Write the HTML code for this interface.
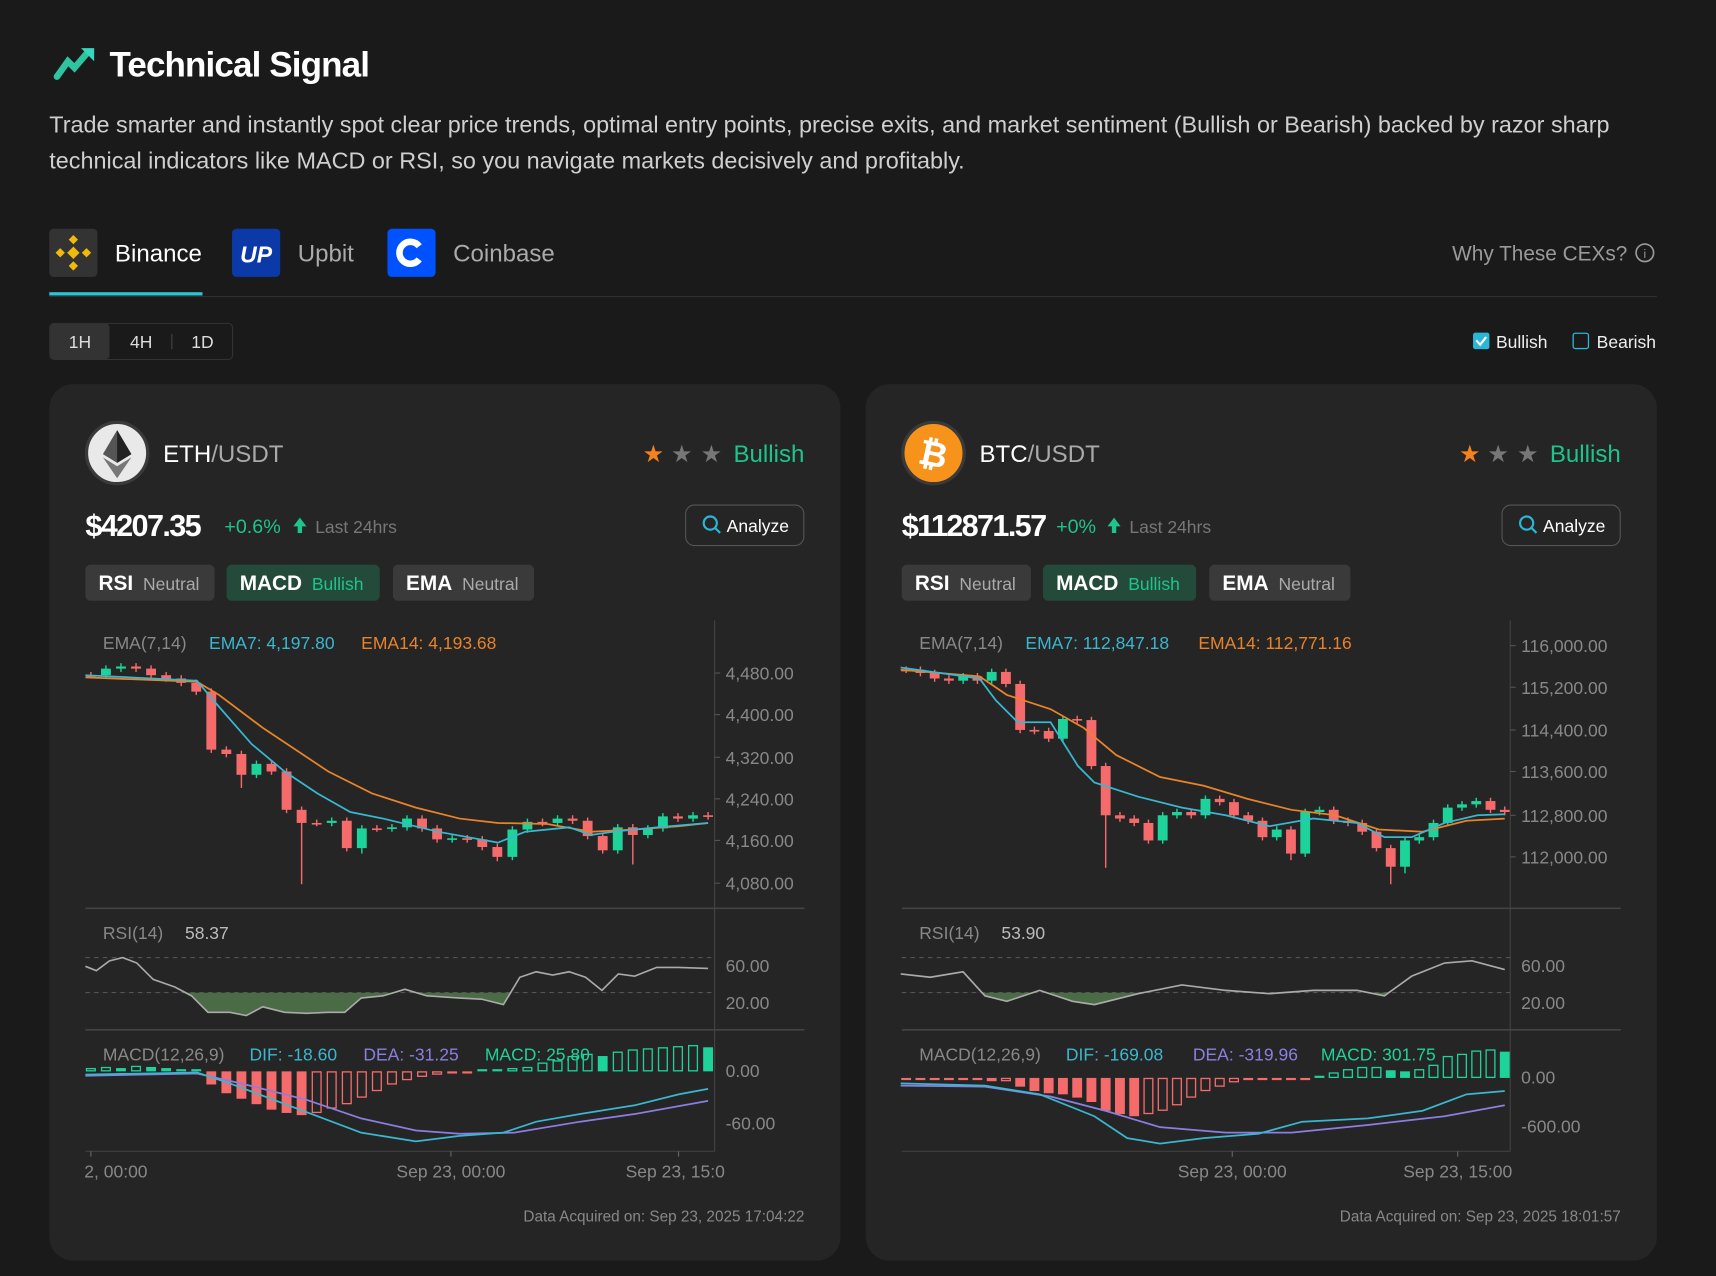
<!DOCTYPE html>
<html><head><meta charset="utf-8"><style>
html,body{margin:0;padding:0;background:#1a1a1a;width:1716px;height:1276px;overflow:hidden}
svg{display:block;font-family:"Liberation Sans",sans-serif}
</style></head><body>
<svg id="s" width="1716" height="1276" viewBox="0 0 1568 1166" xmlns="http://www.w3.org/2000/svg">
<rect width="1568" height="1166" fill="#1a1a1a"/>
<defs>
<clipPath id="rc1"><rect x="70" y="907" width="600" height="40"/></clipPath>
<clipPath id="rc2"><rect x="815" y="907" width="600" height="40"/></clipPath>
</defs>
<path d="M52 70 L62 56 L68 62 L80 48" stroke="#2ec4a0" stroke-width="6" fill="none" stroke-linecap="round"/>
<polygon points="74,44 86,44 86,56" fill="#37d6c0"/>
<text x="100" y="70" font-size="32" font-weight="bold" fill="#fff" letter-spacing="-0.8">Technical Signal</text>
<text x="45" y="121" font-size="21.4" fill="#cfcfcf">Trade smarter and instantly spot clear price trends, optimal entry points, precise exits, and market sentiment (Bullish or Bearish) backed by razor sharp</text>
<text x="45" y="154" font-size="21.4" fill="#cfcfcf">technical indicators like MACD or RSI, so you navigate markets decisively and profitably.</text>
<rect x="45" y="209" width="44" height="44" rx="4" fill="#333"/>
<g fill="#f0b90b" transform="translate(67,231)">
<rect x="-4" y="-4" width="8" height="8" transform="rotate(45)"/>
<rect x="-3" y="-15" width="6" height="6" transform="rotate(45 0 -12)"/>
<rect x="-3" y="9" width="6" height="6" transform="rotate(45 0 12)"/>
<rect x="-15" y="-3" width="6" height="6" transform="rotate(45 -12 0)"/>
<rect x="9" y="-3" width="6" height="6" transform="rotate(45 12 0)"/>
</g>
<text x="105" y="239" font-size="22" fill="#fff">Binance</text>
<rect x="212" y="209" width="44" height="44" rx="4" fill="#0b3aa8"/>
<text x="234" y="240" font-size="21" font-weight="bold" font-style="italic" fill="#fff" text-anchor="middle">UP</text>
<text x="272" y="239" font-size="22" fill="#aaa">Upbit</text>
<rect x="354" y="209" width="44" height="44" rx="4" fill="#0052ff"/>
<path d="M383 225 A10 10 0 1 0 383 237" stroke="#fff" stroke-width="6" fill="none"/>
<text x="414" y="239" font-size="22" fill="#aaa">Coinbase</text>
<line x1="45" y1="271" x2="1514" y2="271" stroke="#303030" stroke-width="1"/>
<rect x="45" y="267" width="140" height="3" fill="#2ec4d6"/>
<text x="1487" y="238" font-size="19" fill="#9a9a9a" text-anchor="end">Why These CEXs?</text>
<circle cx="1503" cy="231" r="8" stroke="#9a9a9a" stroke-width="1.5" fill="none"/>
<text x="1503" y="236" font-size="11" fill="#9a9a9a" text-anchor="middle">i</text>
<rect x="45.5" y="295.5" width="167" height="33" rx="4" fill="none" stroke="#333"/>
<rect x="46" y="296" width="54" height="32" rx="3" fill="#333"/>
<line x1="157" y1="305" x2="157" y2="319" stroke="#444"/>
<text x="73" y="318" font-size="16" fill="#ddd" text-anchor="middle">1H</text>
<text x="129" y="318" font-size="16" fill="#ddd" text-anchor="middle">4H</text>
<text x="185" y="318" font-size="16" fill="#ddd" text-anchor="middle">1D</text>
<rect x="1346" y="304" width="15" height="15" rx="2" fill="#2bb5d6"/>
<path d="M1349 311 L1352.5 315 L1358 308" stroke="#fff" stroke-width="2" fill="none"/>
<text x="1367" y="318" font-size="16" fill="#eee">Bullish</text>
<rect x="1437.5" y="304.5" width="14" height="14" rx="2" fill="none" stroke="#2bb5d6" stroke-width="1.2"/>
<text x="1459" y="318" font-size="16" fill="#eee">Bearish</text>
<g id="cards"></g>
</svg>
<script>
const NS="http://www.w3.org/2000/svg";
const root=document.getElementById('cards');
function el(t,a,txt,p){const e=document.createElementNS(NS,t);for(const k in a)e.setAttribute(k,a[k]);if(txt!=null)e.textContent=txt;(p||root).appendChild(e);return e;}
function pts(a){return a.map(p=>p.join(',')).join(' ');}
function card(o,d){
 const X=v=>v+o, AX=d.ax;
 el('rect',{x:X(45),y:351,width:723,height:801,rx:22,fill:'#252525'});
 if(d.eth){
  el('circle',{cx:X(107),cy:414,r:28,fill:'#e9e9e9',stroke:'#3a3a3a','stroke-width':3});
  el('polygon',{points:pts([[X(107),393],[X(94),415],[X(107),423],[X(120),415]]),fill:'#555'});
  el('polygon',{points:pts([[X(107),393],[X(107),423],[X(120),415]]),fill:'#222'});
  el('polygon',{points:pts([[X(94),418],[X(107),437],[X(120),418],[X(107),426]]),fill:'#777'});
 } else {
  el('circle',{cx:X(107),cy:414,r:28,fill:'#f7931a',stroke:'#3a3a3a','stroke-width':3});
  el('text',{x:X(107),y:426,'font-size':32,'font-weight':'bold',fill:'#fff','text-anchor':'middle',transform:`rotate(12 ${X(107)} 414)`},'₿');
 }
 const t=el('text',{x:X(149),y:422,'font-size':22,fill:'#fff'},d.sym);
 el('tspan',{fill:'#aaa'},'/USDT',t);
 [597,623,650].forEach((x,i)=>el('text',{x:X(x),y:422,'font-size':22,fill:i?'#777':'#f5821f','text-anchor':'middle'},'★'));
 el('text',{x:X(735),y:422,'font-size':22,fill:'#1ec48c','text-anchor':'end'},'Bullish');
 el('text',{x:X(78),y:490,'font-size':28,'font-weight':'bold',fill:'#fff','letter-spacing':'-1.5'},d.price);
 el('text',{x:X(d.pcx),y:487,'font-size':18,fill:'#1ec48c'},d.pct);
 el('polygon',{points:pts([[X(d.arx),473],[X(d.arx-6),481],[X(d.arx-2),481],[X(d.arx-2),487],[X(d.arx+2),487],[X(d.arx+2),481],[X(d.arx+6),481]]),fill:'#1ec48c'});
 el('text',{x:X(d.arx+14),y:487,'font-size':16,fill:'#777'},'Last 24hrs');
 el('rect',{x:X(626.5),y:461.5,width:108,height:37,rx:8,fill:'none',stroke:'#555'});
 el('circle',{cx:X(649),cy:478,r:6,fill:'none',stroke:'#2bb5d6','stroke-width':2});
 el('line',{x1:X(653.5),y1:482.5,x2:X(658),y2:487,stroke:'#2bb5d6','stroke-width':2});
 el('text',{x:X(664),y:486,'font-size':16,fill:'#fff'},'Analyze');
 [[78,118,'#3a3a3a','RSI','Neutral','#aaa'],[207,140,'#244a3b','MACD','Bullish','#1ec48c'],[359,129,'#3a3a3a','EMA','Neutral','#aaa']].forEach(b=>{
  el('rect',{x:X(b[0]),y:516,width:b[1],height:33,rx:5,fill:b[2]});
  const tt=el('text',{x:X(b[0]+12),y:539,'font-size':19,'font-weight':'bold',fill:'#fff'},b[3]);
  el('tspan',{dx:9,'font-size':16,'font-weight':'normal',fill:b[5]},b[4],tt);
 });
 el('line',{x1:X(AX),y1:567,x2:X(AX),y2:1052,stroke:'#444'});
 el('line',{x1:X(78),y1:830,x2:X(735),y2:830,stroke:'#444','stroke-width':1.5});
 el('line',{x1:X(78),y1:941,x2:X(735),y2:941,stroke:'#444','stroke-width':1.5});
 el('line',{x1:X(78),y1:1052,x2:X(AX),y2:1052,stroke:'#444'});
 d.ylab.forEach(l=>{el('line',{x1:X(AX),y1:l[1],x2:X(AX+5),y2:l[1],stroke:'#555'});el('text',{x:X(AX+10),y:l[1]+6,'font-size':16,fill:'#888'},l[0]);});
 const lg=el('text',{x:X(94),y:593,'font-size':16,fill:'#888'},'EMA(7,14)');
 el('tspan',{x:X(191),fill:'#3ab7d0'},d.ema7,lg);el('tspan',{x:X(d.e14x),fill:'#e8832a'},d.ema14,lg);
 const n=d.c.length,step=(d.cx1-d.cx0)/(n-1);
 let prev=d.c[0];
 d.c.forEach((c,i)=>{
  const x=X(d.cx0+i*step),op=i?prev:c,up=c<op,col=up?'#1ed39a':'#f56b6b';
  let hi=Math.min(op,c)-3,lo=Math.max(op,c)+3;
  if(d.wk[i]!=null)lo=d.wk[i];
  el('line',{x1:x,y1:hi,x2:x,y2:lo,stroke:col,'stroke-width':1.3});
  el('rect',{x:x-4.5,y:Math.min(op,c),width:9,height:Math.max(1.5,Math.abs(c-op)),fill:col});
  prev=c;
 });
 el('polyline',{points:pts(d.orange.map(p=>[X(p[0]),p[1]])),fill:'none',stroke:'#e8832a','stroke-width':1.6});
 el('polyline',{points:pts(d.cyan.map(p=>[X(p[0]),p[1]])),fill:'none',stroke:'#3ab7d0','stroke-width':1.6});
 const rl=el('text',{x:X(94),y:858,'font-size':16,fill:'#888'},'RSI(14)');el('tspan',{x:X(169),fill:'#bbb'},d.rsi,rl);
 [875,907].forEach(y=>el('line',{x1:X(78),y1:y,x2:X(AX),y2:y,stroke:'#555','stroke-dasharray':'4,4'}));
 el('text',{x:X(AX+10),y:888,'font-size':16,fill:'#888'},'60.00');el('text',{x:X(AX+10),y:922,'font-size':16,fill:'#888'},'20.00');
 const rp=d.rline.map(p=>[X(p[0]),p[1]]);
 el('polygon',{points:pts(rp.concat([[rp[rp.length-1][0],907],[X(78),907]])),fill:'#4a6b45','clip-path':d.clip});
 el('polyline',{points:pts(rp),fill:'none',stroke:'#aaa','stroke-width':1.5});
 const ml=el('text',{x:X(94),y:969,'font-size':16,fill:'#888'},'MACD(12,26,9)');
 el('tspan',{x:X(228),fill:'#3ab7d0'},d.dif,ml);el('tspan',{x:X(d.deax),fill:'#8a7fe0'},d.dea,ml);el('tspan',{x:X(d.mx),fill:'#1ed39a'},d.mac,ml);
 d.mlab.forEach(l=>el('text',{x:X(AX+10),y:l[1]+6,'font-size':16,fill:'#888'},l[0]));
 const z=d.zero,hn=d.h.length,hs=(d.cx1-d.cx0)/(hn-1);
 d.h.forEach((v,i)=>{
  const x=X(d.cx0+i*hs),pv=i?d.h[i-1]:v,col=v>=0?'#1ed39a':'#f56b6b',fill=v<pv||Math.abs(v)<3;
  const hgt=Math.max(2,Math.abs(v)),y=v>=0?z-hgt:z;
  if(fill)el('rect',{x:x-4.5,y:y,width:9,height:hgt,fill:col});
  else el('rect',{x:x-4,y:y+0.5,width:8,height:hgt-1,fill:'none',stroke:col,'stroke-width':1.2});
 });
 el('polyline',{points:pts(d.dea_l.map(p=>[X(p[0]),p[1]])),fill:'none',stroke:'#8a7fe0','stroke-width':1.6});
 el('polyline',{points:pts(d.dif_l.map(p=>[X(p[0]),p[1]])),fill:'none',stroke:'#3ab7d0','stroke-width':1.6});
 d.xt.forEach(t=>{el('line',{x1:X(t[0]),y1:1052,x2:X(t[0]),y2:1057,stroke:'#666'});el('text',{x:X(t[3]||t[0]),y:1076,'font-size':16,fill:'#888','text-anchor':t[2]||'middle'},t[1]);});
 el('text',{x:X(735),y:1116,'font-size':14,fill:'#888','text-anchor':'end'},d.acq);
}
card(0,{eth:1,sym:'ETH',price:'$4207.35',pct:'+0.6%',pcx:205,arx:274,ax:653,
 ylab:[['4,480.00',615],['4,400.00',653],['4,320.00',692],['4,240.00',730],['4,160.00',768],['4,080.00',807]],
 ema7:'EMA7: 4,197.80',ema14:'EMA14: 4,193.68',e14x:330,
 cx0:83,cx1:647,
 c:[617,611,609,611,617,620,624,632,685,689,708,698,705,740,752,752,750,775,757,757,756,748,757,767,766,767,774,783,758,751,752,748,750,764,777,756,763,757,746,748,745,746],
 wk:{14:808,10:720,27:787,35:780,36:790,18:780},
 cyan:[[78,617],[180,622],[195,640],[230,680],[260,705],[290,725],[320,742],[350,748],[400,760],[455,770],[480,760],[520,756],[540,763],[560,760],[600,756],[647,752]],
 orange:[[78,619],[180,623],[200,635],[240,665],[270,685],[300,705],[340,725],[380,738],[420,748],[455,752],[500,753],[540,760],[580,758],[620,755],[647,752]],
 rsi:'58.37',clip:'url(#rc1)',
 rline:[[78,883],[88,887],[100,878],[112,875],[125,880],[140,895],[160,902],[175,910],[190,925],[210,925],[225,928],[240,920],[260,925],[280,926],[300,925],[315,925],[330,912],[350,910],[370,904],[390,910],[420,912],[440,913],[460,918],[475,893],[490,888],[505,891],[520,888],[535,893],[550,905],[565,890],[580,892],[600,884],[620,884],[647,885]],
 dif:'DIF: -18.60',dea:'DEA: -31.25',deax:332,mac:'MACD: 25.80',mx:443,
 mlab:[['0.00',978],['-60.00',1026]],zero:979,
 h:[3,4,3,5,4,3,2,1,-12,-20,-25,-30,-35,-38,-40,-38,-34,-30,-24,-18,-12,-8,-5,-3,-2,-1,1,2,3,4,8,10,14,16,14,18,20,21,22,23,24,22],
 dif_l:[[78,982],[180,980],[210,990],[250,1005],[290,1020],[330,1035],[380,1043],[420,1038],[460,1035],[490,1025],[530,1018],[580,1010],[620,1000],[647,995]],
 dea_l:[[78,983],[180,981],[220,990],[280,1005],[330,1022],[380,1033],[420,1036],[470,1035],[530,1025],[580,1018],[647,1006]],
 xt:[[83,'2, 00:00','start',77],[412,'Sep 23, 00:00'],[620,'Sep 23, 15:0','middle',617]],
 acq:'Data Acquired on: Sep 23, 2025 17:04:22'});
card(746,{eth:0,sym:'BTC',price:'$112871.57',pct:'+0%',pcx:219,arx:272,ax:634,
 ylab:[['116,000.00',590],['115,200.00',628],['114,400.00',667],['113,600.00',705],['112,800.00',745],['112,000.00',783]],
 ema7:'EMA7: 112,847.18',ema14:'EMA14: 112,771.16',e14x:349,
 cx0:82,cx1:629,
 c:[612,615,620,622,618,622,614,625,667,668,675,657,658,700,745,748,752,768,745,742,745,730,733,745,750,765,758,780,742,740,750,752,760,775,792,768,765,752,738,735,732,740,742],
 wk:{14:793,34:808,35:798,27:786},
 cyan:[[77,610],[149,620],[164,640],[184,660],[214,660],[239,700],[254,715],[294,728],[334,738],[374,745],[414,755],[454,748],[494,752],[519,765],[544,765],[574,752],[604,745],[629,744]],
 orange:[[77,612],[149,618],[174,635],[214,648],[244,665],[274,690],[314,710],[354,718],[394,730],[434,740],[474,745],[514,758],[554,760],[594,750],[629,748]],
 rsi:'53.90',clip:'url(#rc2)',
 rline:[[77,890],[104,893],[134,888],[154,910],[174,915],[204,905],[234,915],[254,918],[294,908],[334,900],[374,905],[414,908],[454,905],[494,905],[519,910],[544,892],[574,880],[599,878],[629,886]],
 dif:'DIF: -169.08',dea:'DEA: -319.96',deax:344,mac:'MACD: 301.75',mx:461,
 mlab:[['0.00',984],['-600.00',1029]],zero:985,
 h:[-2,-2,-2,-2,-2,-2,-3,-3,-8,-12,-14,-15,-18,-22,-30,-33,-35,-33,-30,-25,-18,-12,-8,-4,-2,-1,-1,-1,-1,2,5,8,10,10,7,6,8,12,20,22,25,26,24],
 dif_l:[[77,990],[154,992],[204,1000],[254,1020],[284,1040],[314,1045],[354,1040],[404,1036],[444,1025],[504,1022],[554,1015],[594,1000],[629,997]],
 dea_l:[[77,992],[154,993],[214,1002],[264,1015],[314,1030],[374,1035],[434,1035],[504,1028],[574,1020],[629,1010]],
 xt:[[380,'Sep 23, 00:00'],[586,'Sep 23, 15:00']],
 acq:'Data Acquired on: Sep 23, 2025 18:01:57'});
</script>
</body></html>
